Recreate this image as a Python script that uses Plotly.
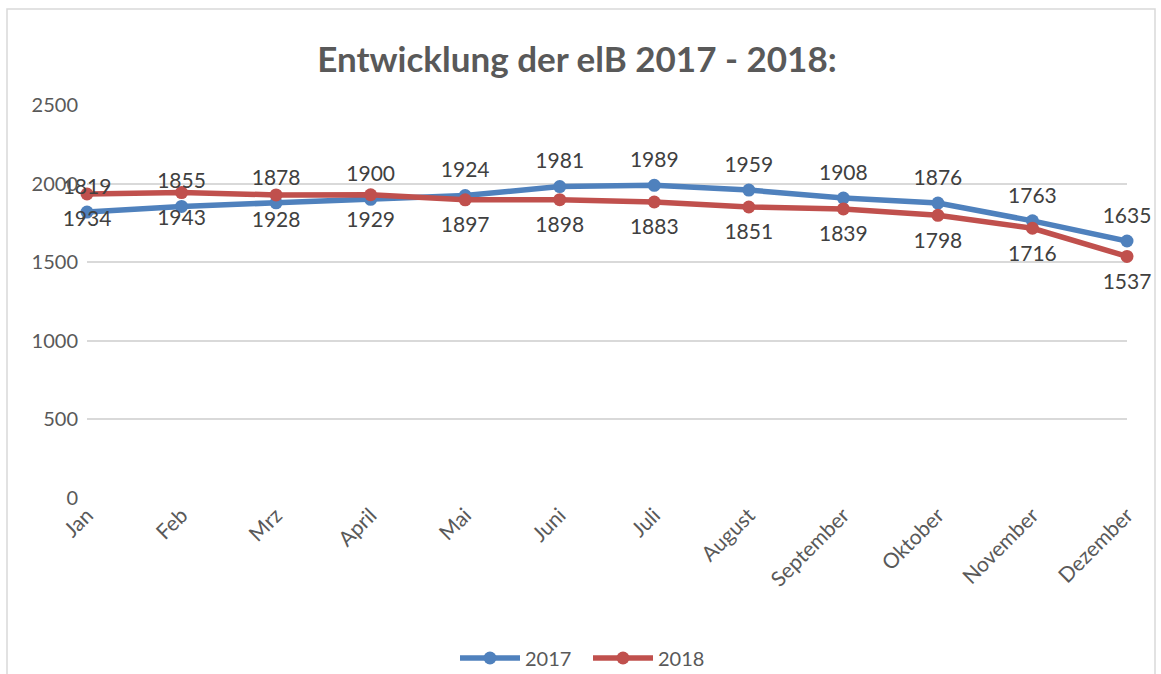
import plotly.graph_objects as go

months = ["Jan", "Feb", "Mrz", "April", "Mai", "Juni", "Juli", "August",
          "September", "Oktober", "November", "Dezember"]
values_2017 = [1819, 1855, 1878, 1900, 1924, 1981, 1989, 1959, 1908, 1876, 1763, 1635]
values_2018 = [1934, 1943, 1928, 1929, 1897, 1898, 1883, 1851, 1839, 1798, 1716, 1537]
y_ticks = [0, 500, 1000, 1500, 2000, 2500]

W, H = 1161, 674
L, R, T, B = 87, 1127, 105, 498
ph, pw = B - T, R - L

BLUE, RED = "#4F81BD", "#C0504D"
label_font = dict(family="Lato", size=21, color="#404040")

fig = go.Figure()
fig.add_trace(go.Scatter(
    x=months, y=values_2017, name="2017", mode="lines+markers",
    line=dict(color=BLUE, width=5.5), marker=dict(size=13, color=BLUE), cliponaxis=False))
fig.add_trace(go.Scatter(
    x=months, y=values_2018, name="2018", mode="lines+markers",
    line=dict(color=RED, width=5.5), marker=dict(size=13, color=RED), cliponaxis=False))
# data labels (invisible larger markers only to give the text its offset)
fig.add_trace(go.Scatter(
    x=months, y=values_2017, mode="markers+text", showlegend=False, hoverinfo="skip",
    marker=dict(size=19, color="rgba(0,0,0,0)"),
    text=[str(v) for v in values_2017], textposition="top center",
    textfont=label_font, cliponaxis=False))
fig.add_trace(go.Scatter(
    x=months, y=values_2018, mode="markers+text", showlegend=False, hoverinfo="skip",
    marker=dict(size=25, color="rgba(0,0,0,0)"),
    text=[str(v) for v in values_2018], textposition="bottom center",
    textfont=label_font, cliponaxis=False))

def px_x(x):
    return (x - L) / pw

def px_y(y):
    return (B - y) / ph

fig.add_shape(type="rect", xref="paper", yref="paper",
              x0=px_x(7), x1=px_x(1155), y0=px_y(9), y1=px_y(690),
              line=dict(color="#D9D9D9", width=1.5), fillcolor="rgba(0,0,0,0)", layer="below")

fig.update_layout(
    width=W, height=H,
    margin=dict(l=L, r=W - R, t=T, b=H - B, autoexpand=False),
    paper_bgcolor="white", plot_bgcolor="white",
    font=dict(family="Lato", color="#595959"),
    title=dict(text="<b>Entwicklung der elB 2017 - 2018:</b>", xref="container",
               x=577 / W, xanchor="center", y=1 - 60 / H, yanchor="middle",
               font=dict(size=35, color="#595959", family="Lato")),
    legend=dict(orientation="h", x=px_x(588), xanchor="center", y=px_y(658), yanchor="middle",
                font=dict(size=20, color="#595959"), itemwidth=60, entrywidth=58,
                entrywidthmode="pixels", bgcolor="rgba(0,0,0,0)"),
    showlegend=True,
)
fig.update_xaxes(range=[0, len(months) - 1], tickangle=-45, showgrid=False, showline=False,
                 ticks="", tickfont=dict(size=21, color="#595959"), zeroline=False)
fig.update_yaxes(range=[0, 2500], tickvals=y_ticks, showgrid=True, gridcolor="#D9D9D9",
                 gridwidth=1.5, zeroline=False, showline=False, ticks="",
                 tickfont=dict(size=20, color="#595959"), ticklabelstandoff=8)

fig.write_html("out.html", config={"displayModeBar": False},
               post_script="document.body.style.margin='0';document.body.style.overflow='hidden';")
